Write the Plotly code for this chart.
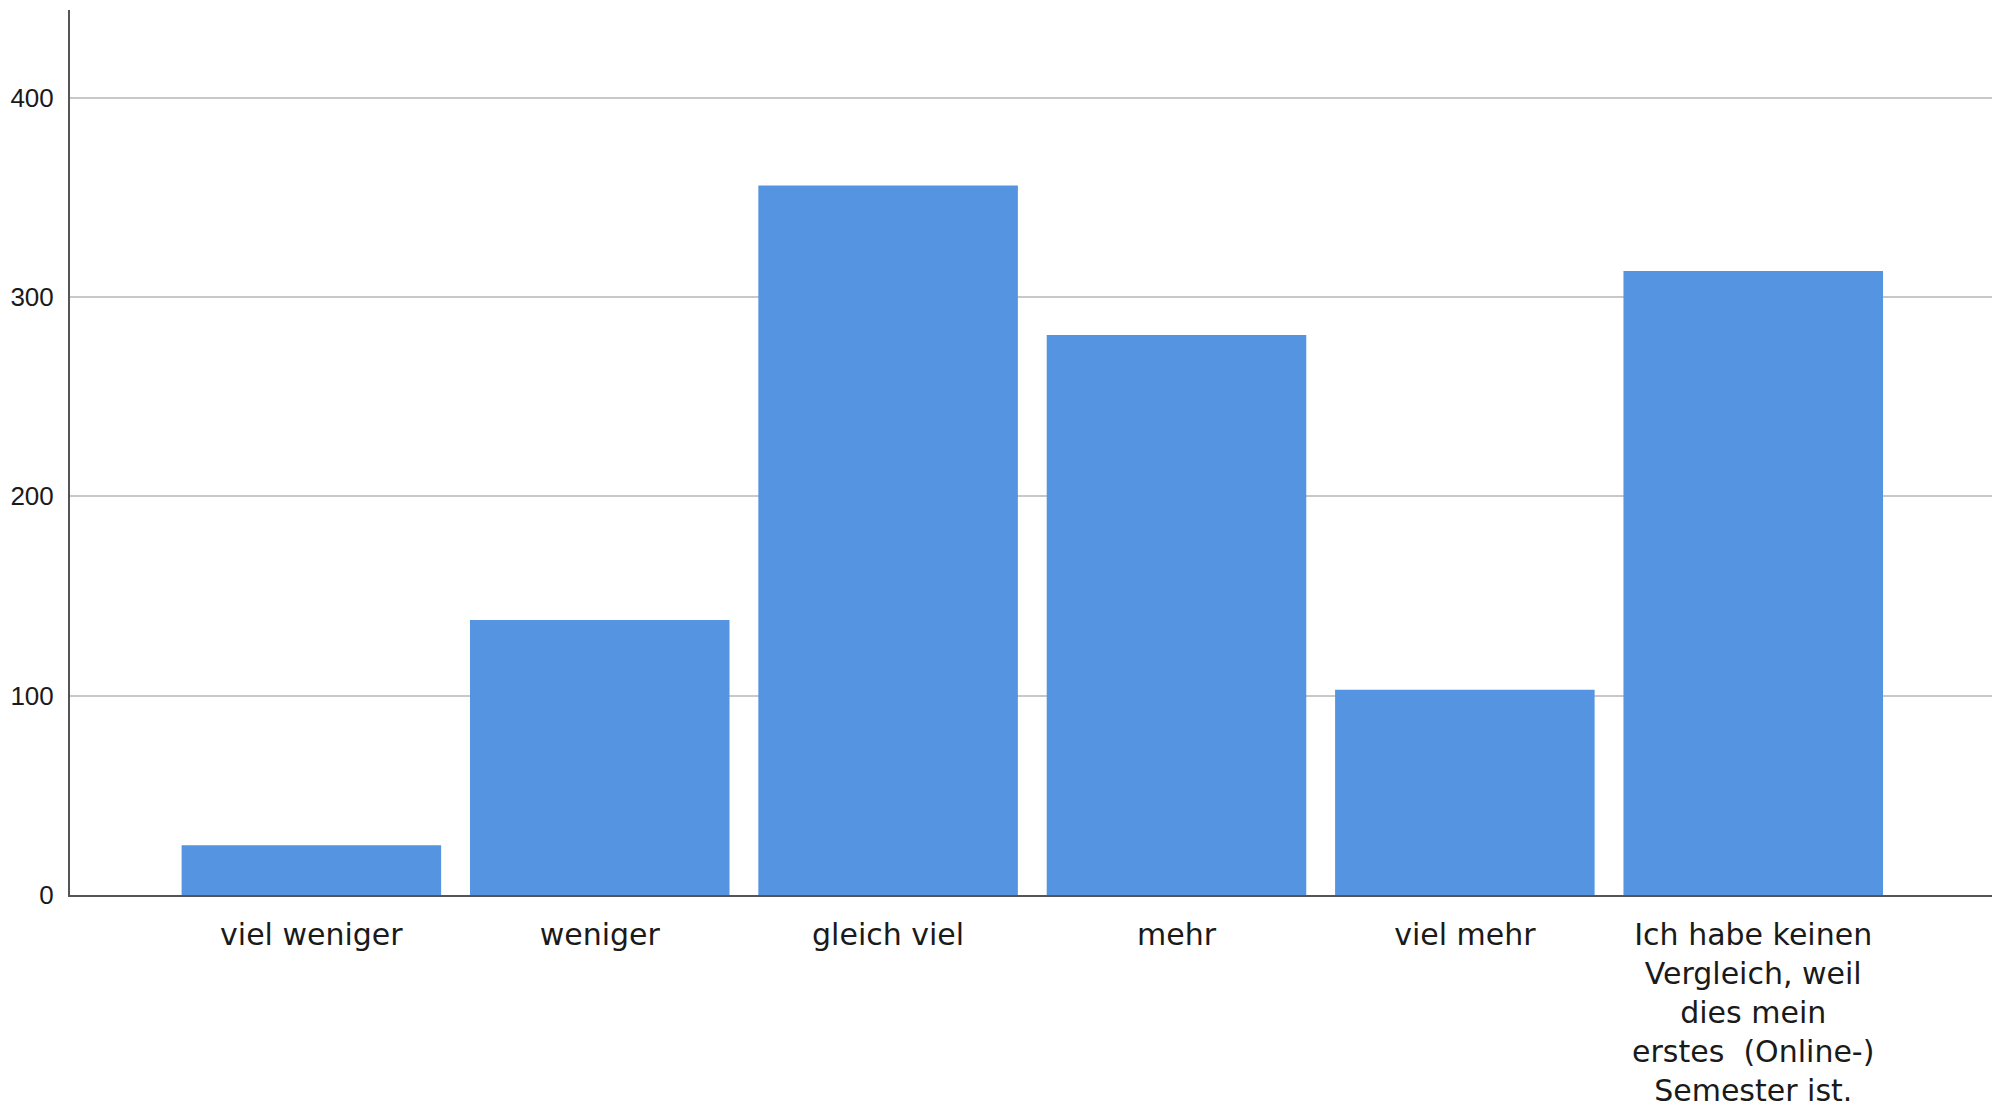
import plotly.graph_objects as go

categories = [
    "viel weniger",
    "weniger",
    "gleich viel",
    "mehr",
    "viel mehr",
    "Ich habe keinen<br>Vergleich, weil<br>dies mein<br>erstes  (Online-)<br>Semester ist.",
]
counts = [25, 138, 356, 281, 103, 313]
y_ticks = [0, 100, 200, 300, 400]

fig = go.Figure()

fig.add_trace(go.Bar(
    x=list(range(len(categories))),
    y=counts,
    marker=dict(color="#5594e0", line=dict(width=0)),
    hoverinfo="y",
))

# the page body adds 8px around the figure, margins compensate for it
fig.update_layout(
    width=2004,
    height=1107,
    margin=dict(l=62, r=20, t=2, b=220),
    paper_bgcolor="white",
    plot_bgcolor="white",
    bargap=0.1,
    showlegend=False,
    xaxis=dict(
        range=[-0.837, 5.828],
        tickmode="array",
        tickvals=list(range(len(categories))),
        ticktext=categories,
        tickangle=0,
        showgrid=False,
        zeroline=False,
        showline=True,
        linecolor="#555555",
        linewidth=2,
        ticks="",
        ticklabelstandoff=12,
        tickfont=dict(family="DejaVu Sans", size=30, color="#1a1a1a"),
    ),
    yaxis=dict(
        range=[0, 444],
        tickmode="array",
        tickvals=y_ticks,
        showgrid=True,
        gridcolor="#c8c8c8",
        gridwidth=2,
        zeroline=False,
        showline=True,
        linecolor="#555555",
        linewidth=2,
        ticks="",
        ticklabelstandoff=9,
        tickfont=dict(family="Liberation Sans", size=26, color="#1a1a1a"),
    ),
)

fig.write_html("out.html")
